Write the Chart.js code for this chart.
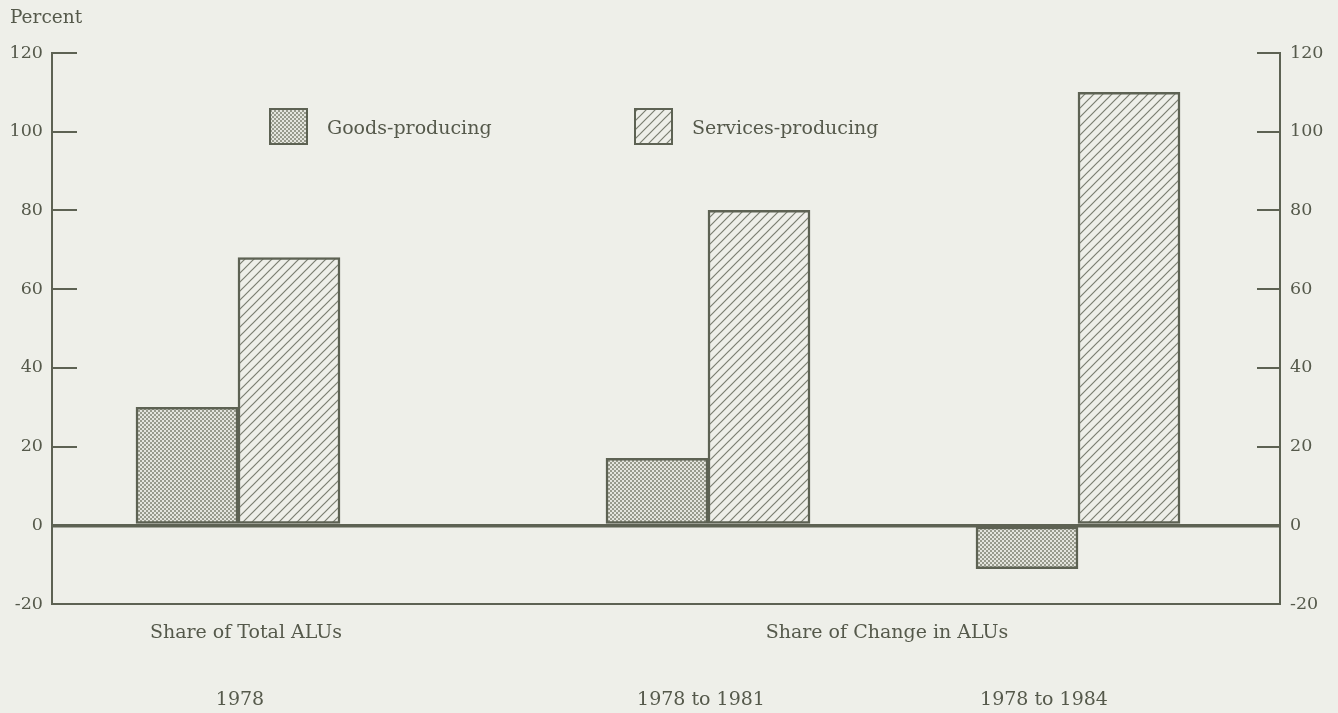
<!DOCTYPE html>
<html>
<head>
<meta charset="utf-8">
<script src="https://cdn.jsdelivr.net/npm/chart.js@4/dist/chart.umd.min.js"></script>
<style>
  html, body { margin: 0; padding: 0; background: #eeefe9; }
  #wrap { width: 1338px; height: 713px; }
</style>
</head>
<body>
<div id="wrap"><canvas id="aluChart" width="1338" height="713"></canvas></div>
<script>
// data
const periods = ['1978', '1978 to 1981', '1978 to 1984'];
const goods = [30, 17, -11];
const services = [68, 80, 110];
const yTicks = [-20, 0, 20, 40, 60, 80, 100, 120];
const seriesNames = ['Goods-producing', 'Services-producing'];
const groupTitles = ['Share of Total ALUs', 'Share of Change in ALUs'];

// layout (x axis is in plot pixels from the left edge)
const groupX = [186, 656, 1026];
const periodLabelX = [188, 649, 992];
const titleX = [194, 835];

const ink = '#5d6253';
const textInk = '#55594b';
const paper = '#eeefe9';
const font = '"DejaVu Serif", "Liberation Serif", serif';

function stipple(){
  const c = document.createElement('canvas');
  c.width = 4; c.height = 4;
  const g = c.getContext('2d');
  g.fillStyle = '#e4e5de';
  g.fillRect(0, 0, 4, 4);
  g.fillStyle = '#979a8c';
  g.fillRect(0, 0, 2, 2);
  g.fillRect(2, 2, 2, 2);
  return g.createPattern(c, 'repeat');
}

function hatch(){
  const s = 9;
  const c = document.createElement('canvas');
  c.width = s; c.height = s;
  const g = c.getContext('2d');
  g.fillStyle = paper;
  g.fillRect(0, 0, s, s);
  g.strokeStyle = '#7a7e70';
  g.lineWidth = 1.2;
  g.beginPath();
  g.moveTo(-1, s + 1); g.lineTo(s + 1, -1);
  g.moveTo(-2, 2); g.lineTo(2, -2);
  g.moveTo(s - 2, s + 2); g.lineTo(s + 2, s - 2);
  g.stroke();
  return g.createPattern(c, 'repeat');
}

const fills = [stipple(), hatch()];

// inward tick marks, legend boxes and the category texts
const extras = {
  id: 'extras',
  afterDraw(chart){
    const ctx = chart.ctx;
    const a = chart.chartArea;
    const x = chart.scales.x;
    const y = chart.scales.y;
    ctx.save();
    ctx.strokeStyle = ink;
    ctx.lineWidth = 2;
    yTicks.forEach(v => {
      const py = Math.round(y.getPixelForValue(v));
      ctx.beginPath();
      ctx.moveTo(a.left, py); ctx.lineTo(a.left + 25, py);
      ctx.moveTo(a.right - 23, py); ctx.lineTo(a.right, py);
      ctx.stroke();
    });

    // legend
    const legendX = [218, 583];
    seriesNames.forEach((name, i) => {
      const lx = x.getPixelForValue(legendX[i]);
      const ly = a.top + 56;
      ctx.fillStyle = fills[i];
      ctx.fillRect(lx, ly, 37, 35);
      ctx.strokeStyle = ink;
      ctx.lineWidth = 2;
      ctx.strokeRect(lx, ly, 37, 35);
      ctx.fillStyle = textInk;
      ctx.font = '19px ' + font;
      ctx.textAlign = 'left';
      ctx.textBaseline = 'middle';
      ctx.fillText(name, lx + 57, ly + 20);
    });

    ctx.fillStyle = textInk;
    ctx.font = '19px ' + font;
    ctx.textAlign = 'center';
    ctx.textBaseline = 'middle';
    groupTitles.forEach((t, i) => {
      ctx.fillText(t, x.getPixelForValue(titleX[i]), a.bottom + 29);
    });
    periods.forEach((p, i) => {
      ctx.fillText(p, x.getPixelForValue(periodLabelX[i]), a.bottom + 96);
    });

    ctx.font = '18.5px ' + font;
    ctx.textAlign = 'left';
    ctx.fillText('Percent', 10, 18);
    ctx.restore();
  }
};

const yAxis = (pos, pad, w) => ({
  position: pos,
  min: -20,
  max: 120,
  ticks: {
    stepSize: 20,
    padding: pad,
    color: textInk,
    font: { family: font, size: 17.5 }
  },
  border: { display: true, color: ink, width: 2 },
  afterFit(s){ s.width = w; }
});

const leftAxis = yAxis('left', 9, 52);
leftAxis.grid = {
  drawTicks: false,
  color: c => (c.tick && (c.tick.value === 0 || c.tick.value === -20)) ? ink : 'rgba(0,0,0,0)',
  lineWidth: c => (c.tick && c.tick.value === 0) ? 3.5 : 2
};
const rightAxis = yAxis('right', 10, 58);
rightAxis.grid = { display: false, drawTicks: false };

new Chart(document.getElementById('aluChart'), {
  type: 'bar',
  data: {
    datasets: [{
      label: seriesNames[0],
      data: goods.map((v, i) => ({ x: groupX[i], y: v })),
      backgroundColor: fills[0],
      borderColor: ink,
      borderWidth: 2.5,
      borderSkipped: false,
      barThickness: 102
    }, {
      label: seriesNames[1],
      data: services.map((v, i) => ({ x: groupX[i], y: v })),
      backgroundColor: fills[1],
      borderColor: ink,
      borderWidth: 2.5,
      borderSkipped: false,
      barThickness: 102
    }]
  },
  options: {
    responsive: false,
    animation: false,
    layout: { padding: { top: 53, bottom: 109, left: 0, right: 0 } },
    plugins: {
      legend: { display: false },
      tooltip: { enabled: false }
    },
    scales: {
      x: { type: 'linear', min: 0, max: 1228, offset: false, display: false },
      y: leftAxis,
      y2: rightAxis
    }
  },
  plugins: [extras]
});
</script>
</body>
</html>
